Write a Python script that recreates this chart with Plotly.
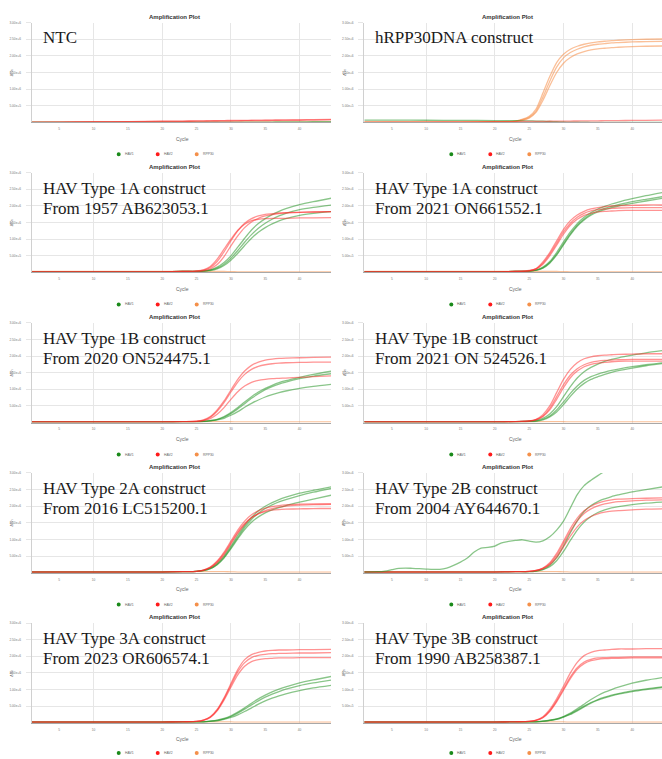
import plotly.graph_objects as go

# ---------------- data (ΔRn values in units of 1e6) ----------------
cycles = [1, 5, 10, 15, 20, 23, 25, 26, 27, 28, 29, 30, 31, 32, 33, 34, 35, 36, 37, 38, 40, 42, 45]

# Panel 1: NTC
p1_hav1 = [[0.01, 0.01, 0.01, 0.01, 0.01, 0.01, 0.01, 0.01, 0.01, 0.01, 0.01, 0.01, 0.01, 0.01, 0.01, 0.01, 0.01, 0.01, 0.015, 0.015, 0.015, 0.02, 0.02]]
p1_hav2 = [[0.005, 0.01, 0.02, 0.025, 0.035, 0.04, 0.045, 0.047, 0.05, 0.052, 0.055, 0.057, 0.06, 0.062, 0.064, 0.066, 0.068, 0.07, 0.072, 0.074, 0.078, 0.082, 0.09],
           [0.003, 0.008, 0.015, 0.02, 0.028, 0.033, 0.036, 0.038, 0.04, 0.042, 0.044, 0.046, 0.048, 0.05, 0.052, 0.054, 0.056, 0.058, 0.06, 0.062, 0.065, 0.068, 0.075]]
p1_rpp30 = [[0.01, 0.01, 0.01, 0.01, 0.01, 0.01, 0.01, 0.01, 0.01, 0.01, 0.01, 0.01, 0.01, 0.01, 0.01, 0.01, 0.01, 0.01, 0.01, 0.01, 0.01, 0.01, 0.01]]

# Panel 2: hRPP30DNA construct
p2_hav1 = [[0.07, 0.07, 0.065, 0.06, 0.055, 0.05, 0.045, 0.04, 0.035, 0.03, 0.02, 0.012, 0.008, 0.005, 0.004, 0.003, 0.003, 0.003, 0.003, 0.003, 0.003, 0.003, 0.003]]
p2_hav2 = [[0.0, 0.005, 0.01, 0.015, 0.02, 0.025, 0.028, 0.03, 0.032, 0.034, 0.036, 0.038, 0.04, 0.042, 0.044, 0.046, 0.048, 0.05, 0.052, 0.054, 0.058, 0.062, 0.07]]
p2_rpp30 = [[0.01, 0.01, 0.01, 0.01, 0.02, 0.04, 0.18, 0.40, 0.88, 1.38, 1.80, 2.05, 2.20, 2.29, 2.35, 2.39, 2.42, 2.44, 2.46, 2.47, 2.49, 2.50, 2.51],
            [0.01, 0.01, 0.01, 0.01, 0.02, 0.035, 0.15, 0.34, 0.76, 1.24, 1.66, 1.94, 2.10, 2.20, 2.27, 2.32, 2.35, 2.37, 2.39, 2.40, 2.42, 2.43, 2.44],
            [0.01, 0.01, 0.01, 0.01, 0.02, 0.03, 0.13, 0.30, 0.66, 1.10, 1.50, 1.78, 1.95, 2.06, 2.13, 2.18, 2.21, 2.23, 2.25, 2.26, 2.28, 2.29, 2.30]]

flat_rpp30 = [[0.03, 0.03, 0.03, 0.03, 0.03, 0.03, 0.03, 0.03, 0.03, 0.03, 0.03, 0.025, 0.02, 0.02, 0.02, 0.02, 0.02, 0.02, 0.02, 0.02, 0.02, 0.02, 0.02]]

# Panel 3: HAV 1A 1957
p3_hav1 = [[0.02, 0.02, 0.02, 0.02, 0.02, 0.03, 0.03, 0.05, 0.08, 0.16, 0.30, 0.50, 0.76, 1.03, 1.28, 1.47, 1.62, 1.74, 1.84, 1.92, 2.04, 2.13, 2.25],
           [0.02, 0.02, 0.02, 0.02, 0.02, 0.03, 0.03, 0.04, 0.07, 0.13, 0.25, 0.43, 0.66, 0.91, 1.14, 1.33, 1.48, 1.60, 1.70, 1.78, 1.89, 1.96, 2.04],
           [0.02, 0.02, 0.02, 0.02, 0.02, 0.03, 0.03, 0.04, 0.06, 0.11, 0.21, 0.37, 0.58, 0.81, 1.03, 1.21, 1.35, 1.46, 1.55, 1.62, 1.72, 1.78, 1.84]]
p3_hav2 = [[0.02, 0.02, 0.02, 0.02, 0.02, 0.03, 0.05, 0.08, 0.18, 0.40, 0.70, 1.00, 1.27, 1.45, 1.56, 1.60, 1.62, 1.63, 1.63, 1.63, 1.64, 1.64, 1.65],
           [0.02, 0.02, 0.02, 0.02, 0.02, 0.03, 0.04, 0.07, 0.15, 0.33, 0.62, 0.95, 1.25, 1.48, 1.62, 1.70, 1.75, 1.77, 1.79, 1.80, 1.81, 1.82, 1.83],
           [0.02, 0.02, 0.02, 0.02, 0.02, 0.03, 0.03, 0.05, 0.11, 0.24, 0.48, 0.80, 1.10, 1.35, 1.52, 1.63, 1.70, 1.74, 1.77, 1.79, 1.81, 1.82, 1.83]]

# Panel 4: HAV 1A 2021
p4_hav1 = [[0.02, 0.02, 0.02, 0.02, 0.02, 0.03, 0.04, 0.07, 0.16, 0.33, 0.60, 0.92, 1.22, 1.47, 1.66, 1.80, 1.91, 1.99, 2.06, 2.12, 2.22, 2.31, 2.43],
           [0.02, 0.02, 0.02, 0.02, 0.02, 0.03, 0.04, 0.07, 0.14, 0.30, 0.55, 0.86, 1.16, 1.42, 1.61, 1.75, 1.85, 1.93, 1.99, 2.04, 2.13, 2.20, 2.30],
           [0.02, 0.02, 0.02, 0.02, 0.02, 0.03, 0.04, 0.06, 0.13, 0.28, 0.52, 0.83, 1.13, 1.39, 1.58, 1.72, 1.82, 1.89, 1.95, 2.00, 2.08, 2.15, 2.25]]
p4_hav2 = [[0.02, 0.02, 0.02, 0.02, 0.02, 0.03, 0.06, 0.12, 0.32, 0.60, 0.95, 1.30, 1.56, 1.73, 1.84, 1.91, 1.95, 1.98, 2.00, 2.01, 2.02, 2.03, 2.03],
           [0.02, 0.02, 0.02, 0.02, 0.02, 0.03, 0.05, 0.11, 0.28, 0.55, 0.88, 1.22, 1.48, 1.66, 1.78, 1.85, 1.89, 1.91, 1.93, 1.94, 1.95, 1.95, 1.95],
           [0.02, 0.02, 0.02, 0.02, 0.02, 0.03, 0.05, 0.10, 0.25, 0.50, 0.82, 1.15, 1.42, 1.60, 1.72, 1.78, 1.82, 1.84, 1.85, 1.86, 1.87, 1.87, 1.87]]

# Panel 5: HAV 1B 2020
p5_hav1 = [[0.02, 0.02, 0.02, 0.02, 0.02, 0.03, 0.03, 0.04, 0.06, 0.10, 0.18, 0.30, 0.45, 0.62, 0.78, 0.92, 1.03, 1.12, 1.20, 1.26, 1.36, 1.45, 1.56],
           [0.02, 0.02, 0.02, 0.02, 0.02, 0.03, 0.03, 0.04, 0.06, 0.09, 0.16, 0.27, 0.41, 0.57, 0.73, 0.87, 0.99, 1.08, 1.16, 1.22, 1.32, 1.40, 1.48],
           [0.02, 0.02, 0.02, 0.02, 0.02, 0.03, 0.03, 0.03, 0.05, 0.08, 0.13, 0.22, 0.33, 0.46, 0.58, 0.68, 0.77, 0.84, 0.90, 0.95, 1.03, 1.09, 1.16]]
p5_hav2 = [[0.02, 0.02, 0.02, 0.02, 0.02, 0.03, 0.04, 0.08, 0.18, 0.38, 0.65, 0.98, 1.30, 1.55, 1.72, 1.82, 1.88, 1.91, 1.93, 1.94, 1.95, 1.96, 1.97],
           [0.02, 0.02, 0.02, 0.02, 0.02, 0.03, 0.04, 0.07, 0.16, 0.34, 0.60, 0.92, 1.22, 1.45, 1.60, 1.69, 1.74, 1.77, 1.79, 1.80, 1.81, 1.82, 1.82],
           [0.02, 0.02, 0.02, 0.02, 0.02, 0.03, 0.03, 0.06, 0.12, 0.25, 0.45, 0.70, 0.93, 1.10, 1.21, 1.27, 1.30, 1.32, 1.33, 1.34, 1.36, 1.38, 1.41]]

# Panel 6: HAV 1B 2021
p6_hav1 = [[0.02, 0.02, 0.02, 0.02, 0.02, 0.03, 0.04, 0.07, 0.13, 0.26, 0.48, 0.78, 1.08, 1.34, 1.53, 1.66, 1.76, 1.84, 1.90, 1.95, 2.03, 2.10, 2.18],
           [0.02, 0.02, 0.02, 0.02, 0.02, 0.03, 0.04, 0.05, 0.10, 0.20, 0.38, 0.62, 0.88, 1.10, 1.27, 1.38, 1.46, 1.52, 1.57, 1.61, 1.68, 1.74, 1.81],
           [0.02, 0.02, 0.02, 0.02, 0.02, 0.03, 0.03, 0.04, 0.08, 0.17, 0.32, 0.54, 0.79, 1.01, 1.18, 1.30, 1.38, 1.45, 1.51, 1.56, 1.64, 1.71, 1.79]]
p6_hav2 = [[0.02, 0.02, 0.02, 0.02, 0.02, 0.03, 0.05, 0.10, 0.24, 0.50, 0.90, 1.30, 1.60, 1.80, 1.92, 1.98, 2.01, 2.03, 2.04, 2.05, 2.06, 2.07, 2.07],
           [0.02, 0.02, 0.02, 0.02, 0.02, 0.03, 0.05, 0.09, 0.20, 0.43, 0.78, 1.14, 1.43, 1.62, 1.74, 1.81, 1.85, 1.87, 1.88, 1.89, 1.90, 1.90, 1.90],
           [0.02, 0.02, 0.02, 0.02, 0.02, 0.03, 0.04, 0.08, 0.18, 0.38, 0.70, 1.05, 1.35, 1.55, 1.68, 1.75, 1.79, 1.81, 1.83, 1.84, 1.85, 1.85, 1.85]]

# Panel 7: HAV 2A 2016
p7_hav1 = [[0.02, 0.02, 0.02, 0.02, 0.02, 0.03, 0.04, 0.07, 0.14, 0.28, 0.50, 0.80, 1.12, 1.42, 1.66, 1.86, 2.00, 2.11, 2.20, 2.27, 2.39, 2.48, 2.60],
           [0.02, 0.02, 0.02, 0.02, 0.02, 0.03, 0.04, 0.06, 0.12, 0.25, 0.46, 0.75, 1.06, 1.36, 1.60, 1.79, 1.93, 2.04, 2.13, 2.20, 2.32, 2.42, 2.55],
           [0.02, 0.02, 0.02, 0.02, 0.02, 0.03, 0.04, 0.06, 0.12, 0.24, 0.44, 0.72, 1.02, 1.30, 1.52, 1.68, 1.80, 1.89, 1.96, 2.02, 2.12, 2.21, 2.35]]
p7_hav2 = [[0.02, 0.02, 0.02, 0.02, 0.02, 0.03, 0.04, 0.08, 0.17, 0.35, 0.62, 0.95, 1.28, 1.55, 1.74, 1.86, 1.94, 1.99, 2.02, 2.04, 2.06, 2.07, 2.07],
           [0.02, 0.02, 0.02, 0.02, 0.02, 0.03, 0.04, 0.08, 0.16, 0.33, 0.58, 0.90, 1.22, 1.48, 1.66, 1.77, 1.84, 1.88, 1.90, 1.91, 1.92, 1.93, 1.93],
           [0.02, 0.02, 0.02, 0.02, 0.02, 0.03, 0.04, 0.07, 0.15, 0.30, 0.54, 0.86, 1.18, 1.45, 1.65, 1.78, 1.87, 1.93, 1.97, 2.00, 2.03, 2.05, 2.06]]

# Panel 8: HAV 2B 2004
p8_hav1 = [[0.02, 0.02, 0.02, 0.02, 0.02, 0.03, 0.03, 0.05, 0.10, 0.22, 0.45, 0.80, 1.20, 1.56, 1.84, 2.02, 2.14, 2.22, 2.29, 2.34, 2.43, 2.50, 2.60],
           [0.02, 0.02, 0.02, 0.02, 0.02, 0.03, 0.03, 0.05, 0.09, 0.18, 0.36, 0.64, 0.97, 1.28, 1.52, 1.69, 1.81, 1.89, 1.95, 1.99, 2.05, 2.09, 2.13]]
p8_odd_cycles = [1, 3, 4, 5, 6, 7, 8, 9, 10, 11, 12, 13, 14, 15, 16, 17, 18, 19, 20, 21, 22, 23, 24, 25, 26, 27, 28, 29, 30, 31, 32, 33, 34, 35, 36, 37, 38]
p8_odd_hav1 = [0.02, 0.03, 0.05, 0.09, 0.13, 0.14, 0.13, 0.12, 0.11, 0.10, 0.10, 0.14, 0.22, 0.32, 0.44, 0.62, 0.74, 0.76, 0.80, 0.90, 0.94, 0.97, 0.99, 0.95, 0.92, 0.96, 1.08, 1.28, 1.55, 1.95, 2.35, 2.62, 2.78, 2.92, 3.05, 3.15, 3.25]
p8_hav2 = [[0.02, 0.02, 0.02, 0.02, 0.02, 0.03, 0.04, 0.07, 0.14, 0.30, 0.58, 0.95, 1.33, 1.64, 1.86, 2.00, 2.09, 2.15, 2.19, 2.21, 2.23, 2.24, 2.25],
           [0.02, 0.02, 0.02, 0.02, 0.02, 0.03, 0.04, 0.07, 0.13, 0.27, 0.52, 0.88, 1.25, 1.56, 1.78, 1.92, 2.01, 2.07, 2.11, 2.14, 2.16, 2.18, 2.19],
           [0.02, 0.02, 0.02, 0.02, 0.02, 0.03, 0.04, 0.06, 0.12, 0.24, 0.46, 0.78, 1.10, 1.38, 1.57, 1.69, 1.77, 1.82, 1.85, 1.87, 1.89, 1.91, 1.92]]

# Panel 9: HAV 3A 2023
p9_hav1 = [[0.02, 0.02, 0.02, 0.02, 0.02, 0.03, 0.03, 0.03, 0.05, 0.08, 0.13, 0.21, 0.32, 0.45, 0.59, 0.72, 0.83, 0.93, 1.01, 1.08, 1.20, 1.29, 1.41],
           [0.02, 0.02, 0.02, 0.02, 0.02, 0.03, 0.03, 0.03, 0.05, 0.07, 0.12, 0.19, 0.29, 0.41, 0.54, 0.66, 0.77, 0.86, 0.94, 1.01, 1.12, 1.20, 1.30],
           [0.02, 0.02, 0.02, 0.02, 0.02, 0.03, 0.03, 0.03, 0.04, 0.06, 0.10, 0.16, 0.24, 0.34, 0.45, 0.56, 0.66, 0.74, 0.81, 0.87, 0.97, 1.05, 1.14]]
p9_hav2 = [[0.02, 0.02, 0.02, 0.02, 0.02, 0.03, 0.04, 0.08, 0.18, 0.40, 0.75, 1.18, 1.60, 1.90, 2.05, 2.12, 2.16, 2.18, 2.19, 2.19, 2.20, 2.20, 2.21],
           [0.02, 0.02, 0.02, 0.02, 0.02, 0.03, 0.04, 0.08, 0.17, 0.38, 0.72, 1.13, 1.53, 1.81, 1.96, 2.03, 2.06, 2.08, 2.09, 2.09, 2.10, 2.10, 2.11],
           [0.02, 0.02, 0.02, 0.02, 0.02, 0.03, 0.04, 0.07, 0.16, 0.36, 0.68, 1.07, 1.44, 1.70, 1.84, 1.90, 1.93, 1.94, 1.95, 1.95, 1.96, 1.96, 1.96]]

# Panel 10: HAV 3B 1990
p10_hav1 = [[0.02, 0.02, 0.02, 0.02, 0.02, 0.03, 0.03, 0.03, 0.05, 0.08, 0.12, 0.19, 0.29, 0.42, 0.56, 0.70, 0.82, 0.92, 1.00, 1.07, 1.19, 1.28, 1.38],
            [0.02, 0.02, 0.02, 0.02, 0.02, 0.03, 0.03, 0.03, 0.05, 0.07, 0.11, 0.18, 0.27, 0.38, 0.50, 0.61, 0.70, 0.77, 0.83, 0.88, 0.96, 1.02, 1.10],
            [0.02, 0.02, 0.02, 0.02, 0.02, 0.03, 0.03, 0.03, 0.04, 0.07, 0.10, 0.17, 0.25, 0.36, 0.48, 0.59, 0.68, 0.75, 0.81, 0.86, 0.94, 1.00, 1.08]]
p10_hav2 = [[0.02, 0.02, 0.02, 0.02, 0.02, 0.03, 0.04, 0.08, 0.18, 0.40, 0.72, 1.10, 1.50, 1.82, 2.02, 2.12, 2.17, 2.19, 2.21, 2.22, 2.22, 2.23, 2.23],
            [0.02, 0.02, 0.02, 0.02, 0.02, 0.03, 0.04, 0.07, 0.16, 0.36, 0.66, 1.02, 1.38, 1.66, 1.83, 1.91, 1.95, 1.96, 1.97, 1.97, 1.98, 1.98, 1.98],
            [0.02, 0.02, 0.02, 0.02, 0.02, 0.03, 0.04, 0.07, 0.15, 0.34, 0.63, 0.98, 1.33, 1.61, 1.78, 1.87, 1.91, 1.93, 1.94, 1.94, 1.95, 1.95, 1.95]]

label_line1 = ["NTC", "hRPP30DNA construct",
               "HAV Type 1A construct", "HAV Type 1A construct",
               "HAV Type 1B construct", "HAV Type 1B construct",
               "HAV Type 2A construct", "HAV Type 2B construct",
               "HAV Type 3A construct", "HAV Type 3B construct"]
label_line2 = ["", "",
               "From 1957 AB623053.1", "From 2021 ON661552.1",
               "From 2020 ON524475.1", "From 2021 ON 524526.1",
               "From 2016 LC515200.1", "From 2004 AY644670.1",
               "From 2023 OR606574.1", "From 1990 AB258387.1"]

series_names = ["HAV1", "HAV2", "RPP30"]
y_tick_values = [0.5e6, 1.0e6, 1.5e6, 2.0e6, 2.5e6, 3.0e6]
x_tick_values = [5, 10, 15, 20, 25, 30, 35, 40]
x_grid_values = [10, 20, 30, 40]

panels = [
    (p1_hav1, p1_hav2, p1_rpp30),
    (p2_hav1, p2_hav2, p2_rpp30),
    (p3_hav1, p3_hav2, flat_rpp30),
    (p4_hav1, p4_hav2, flat_rpp30),
    (p5_hav1, p5_hav2, flat_rpp30),
    (p6_hav1, p6_hav2, flat_rpp30),
    (p7_hav1, p7_hav2, flat_rpp30),
    (p8_hav1, p8_hav2, flat_rpp30),
    (p9_hav1, p9_hav2, flat_rpp30),
    (p10_hav1, p10_hav2, flat_rpp30),
]

# ---------------- styling ----------------
W, H = 662, 759
line_colors = {"HAV1": "rgba(40,150,40,0.55)", "HAV2": "rgba(255,40,40,0.5)", "RPP30": "rgba(245,140,70,0.55)"}
marker_colors = {"HAV1": "#1a8a1a", "HAV2": "#ff1a1a", "RPP30": "#f4904a"}
PX_PER_CYCLE = 6.869
col_left = [31.7, 364.3]
col_right = [331.0, 662.0]
GRID = "#e6e6e6"


def fx(px):
    return px / W


def fy(py):
    return 1 - py / H


fig = go.Figure()
annotations = []
shapes = []

for i, (hav1, hav2, rpp) in enumerate(panels):
    row, col = divmod(i, 2)
    left, right = col_left[col], col_right[col]
    top = 20.7 + 150.5 * row
    bottom = top + 100
    n = i + 1
    xa = "x" if n == 1 else f"x{n}"
    ya = "y" if n == 1 else f"y{n}"

    for name, group in (("RPP30", rpp), ("HAV1", hav1), ("HAV2", hav2)):
        for vals in group:
            fig.add_trace(go.Scatter(
                x=cycles, y=[v * 1e6 for v in vals], mode="lines",
                line=dict(color=line_colors[name], width=1.3, shape="spline", smoothing=0.7),
                name=name, showlegend=False, xaxis=xa, yaxis=ya, hoverinfo="skip"))
    if i == 7:
        fig.add_trace(go.Scatter(
            x=p8_odd_cycles, y=[v * 1e6 for v in p8_odd_hav1], mode="lines",
            line=dict(color=line_colors["HAV1"], width=1.3, shape="spline", smoothing=0.7),
            name="HAV1", showlegend=False, xaxis=xa, yaxis=ya, hoverinfo="skip"))

    tick_font = dict(family="Arial, Liberation Sans", size=3.2, color="#777")
    fig.layout[f"xaxis{'' if n == 1 else n}"] = dict(
        domain=[fx(left), fx(right)], range=[1, 1 + (right - left) / PX_PER_CYCLE],
        anchor=ya, tickvals=x_tick_values, ticks="", ticklabelstandoff=3,
        showgrid=False, zeroline=False, showline=True, linecolor="#a8a8a8", linewidth=1,
        minor=dict(tickvals=x_grid_values, showgrid=True, gridcolor=GRID, gridwidth=1, ticks=""),
        tickfont=tick_font)
    fig.layout[f"yaxis{'' if n == 1 else n}"] = dict(
        domain=[fy(bottom), fy(top)], range=[0, 3.0e6], anchor=xa,
        tickvals=y_tick_values, tickformat=".2e", ticks="outside", ticklen=5,
        tickcolor=GRID, ticklabelstandoff=4,
        showgrid=True, gridcolor=GRID, gridwidth=1, zeroline=False,
        showline=True, linecolor="#d0d0d0", linewidth=1, tickfont=tick_font)

    annotations.append(dict(x=fx(left + 143), y=fy(top - 5.7), xref="paper", yref="paper",
                            text="<b>Amplification Plot</b>", showarrow=False,
                            font=dict(family="Arial, Liberation Sans", size=6, color="#333"),
                            xanchor="center", yanchor="middle"))
    annotations.append(dict(x=fx(left + 151), y=fy(bottom + 16.5), xref="paper", yref="paper",
                            text="Cycle", showarrow=False,
                            font=dict(family="Arial, Liberation Sans", size=5, color="#666"),
                            xanchor="center", yanchor="middle"))
    annotations.append(dict(x=fx(left - 20), y=fy(top + 50), xref="paper", yref="paper",
                            text="ΔRn", showarrow=False, textangle=-90,
                            font=dict(family="Arial, Liberation Sans", size=3.6, color="#666"),
                            xanchor="center", yanchor="middle"))
    annotations.append(dict(x=fx(left + 9), y=fy(top + 15.3), xref="paper", yref="paper",
                            text=label_line1[i], showarrow=False,
                            font=dict(family="Liberation Serif, Times New Roman, serif", size=17, color="#1a1a1a"),
                            xanchor="left", yanchor="middle"))
    if label_line2[i]:
        annotations.append(dict(x=fx(left + 9), y=fy(top + 36), xref="paper", yref="paper",
                                text=label_line2[i], showarrow=False,
                                font=dict(family="Liberation Serif, Times New Roman, serif", size=17, color="#1a1a1a"),
                                xanchor="left", yanchor="middle"))
    # legend row
    for j, name in enumerate(series_names):
        cx = left + 87.0 + 39 * j
        cy = min(bottom + 32, 753.0)
        shapes.append(dict(type="circle", xref="paper", yref="paper",
                           x0=fx(cx - 2), x1=fx(cx + 2), y0=fy(cy + 2), y1=fy(cy - 2),
                           fillcolor=marker_colors[name], line=dict(width=0)))
        annotations.append(dict(x=fx(cx + 4), y=fy(cy), xref="paper", yref="paper",
                                text=name, showarrow=False,
                                font=dict(family="Arial, Liberation Sans", size=3.4, color="#666"),
                                xanchor="left", yanchor="middle"))

fig.update_layout(width=W, height=H, margin=dict(l=0, r=0, t=0, b=0),
                  paper_bgcolor="white", plot_bgcolor="white",
                  showlegend=False, annotations=annotations, shapes=shapes)

fig.write_html("out.html", config={"displayModeBar": False},
               post_script="document.body.style.margin='0';document.body.style.overflow='hidden';")
